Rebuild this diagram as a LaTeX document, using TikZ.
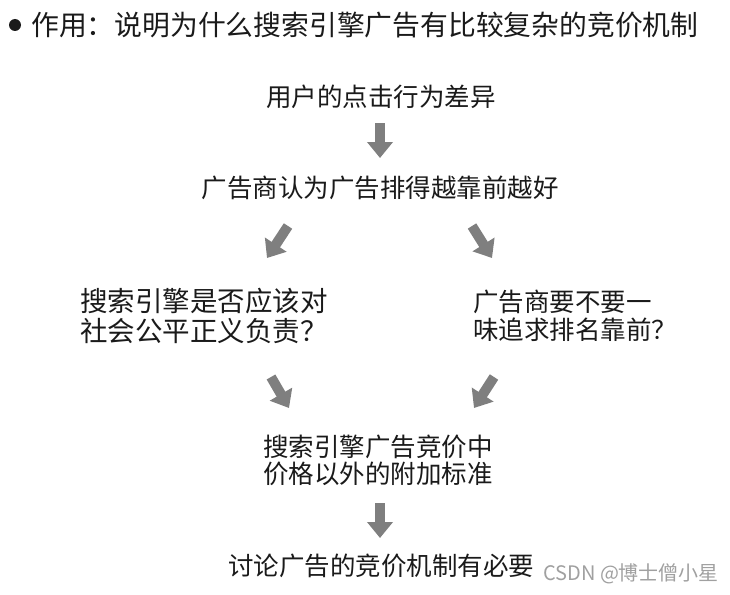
\documentclass[tikz,border=0pt]{standalone}
\usepackage{fontspec}
\setmainfont{Noto Sans CJK SC}
\usetikzlibrary{arrows.meta}
\definecolor{colorText}{HTML}{1A1A1A}
\definecolor{colorArrow}{HTML}{7F7F7F}
\definecolor{colorMark}{HTML}{A0A0A0}
\def\colorText{colorText}
\def\colorArrow{colorArrow}
\def\colorMark{colorMark}

\begin{document}
\begin{tikzpicture}[x=1pt, y=-1pt,
  txt/.style={\colorText, inner sep=0pt, font=\fontsize{25.5pt}{27pt}\selectfont},
  txtl/.style={txt, align=left, anchor=west},
  garrow/.style={\colorArrow, line width=10pt, -{Triangle[width=25pt, length=16pt]}}]

  % Cadre de l'image
  \useasboundingbox (0,0) rectangle (730,594);

  % Titre avec sa puce
  \node[circle, fill=\colorText, minimum size=12pt, inner sep=0pt] (puce) at (15,25) {};
  \node[txt, anchor=west, font=\fontsize{27.8pt}{30pt}\selectfont] (titre) at (31,25)
    {作用：说明为什么搜索引擎广告有比较复杂的竞价机制};

  % Les étapes
  \node[txt] (clic) at (381,97) {用户的点击行为差异};
  \node[txt] (rang) at (380,188) {广告商认为广告排得越靠前越好};
  \node[txtl, font=\fontsize{27.5pt}{30pt}\selectfont] (equite) at (80,316)
    {搜索引擎是否应该对\\社会公平正义负责？};
  \node[txtl, font=\fontsize{25.5pt}{28.5pt}\selectfont] (choix) at (473,316)
    {广告商要不要一\\味追求排名靠前？};
  \node[txtl] (critere) at (263,460) {搜索引擎广告竞价中\\价格以外的附加标准};
  \node[txt] (concl) at (381,566) {讨论广告的竞价机制有必要};

  % Extrémités des flèches
  \coordinate (f1a) at (380,123); \coordinate (f1b) at (380,158);
  \coordinate (f2a) at (288,226); \coordinate (f2b) at (267,258);
  \coordinate (f3a) at (472,226); \coordinate (f3b) at (492,258);
  \coordinate (f4a) at (271,377); \coordinate (f4b) at (289,408);
  \coordinate (f5a) at (494,377); \coordinate (f5b) at (474,408);
  \coordinate (f6a) at (380,503); \coordinate (f6b) at (380,538);

  % Flèches grises
  \foreach \a/\b in {f1a/f1b, f2a/f2b, f3a/f3b, f4a/f4b, f5a/f5b, f6a/f6b}
    \draw[garrow] (\a) -- (\b);

  % Filigrane
  \node[inner sep=0pt, anchor=west, \colorMark, font=\fontsize{20pt}{22pt}\selectfont] (marque) at (543,574)
    {CSDN @博士僧小星};

\end{tikzpicture}
\end{document}
